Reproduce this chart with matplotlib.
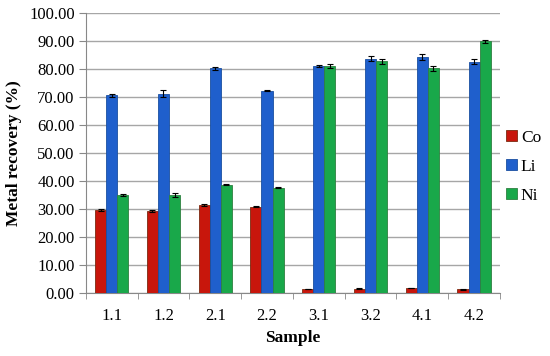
import matplotlib.pyplot as plt
import numpy as np

samples = ['1.1', '1.2', '2.1', '2.2', '3.1', '3.2', '4.1', '4.2']
co = [29.7, 29.2, 31.4, 30.8, 1.4, 1.6, 1.8, 1.3]
li = [70.6, 71.2, 80.2, 72.2, 81.0, 83.6, 84.2, 82.6]
ni = [35.0, 35.0, 38.7, 37.6, 81.0, 82.7, 80.2, 89.8]
co_err = [0.3, 0.4, 0.3, 0.2, 0.1, 0.1, 0.1, 0.1]
li_err = [0.6, 1.2, 0.6, 0.2, 0.4, 0.9, 1.1, 0.8]
ni_err = [0.3, 0.6, 0.3, 0.3, 0.8, 0.8, 0.9, 0.5]

plt.rcParams['font.family'] = ['Liberation Serif', 'DejaVu Serif']

fig = plt.figure(figsize=(5.5, 3.56), dpi=100)
ax = fig.add_axes([0.156, 0.177, 0.753, 0.787])

x = np.arange(len(samples))
w = 0.215
series = [
    ('Co', co, co_err, '#C8160C', '#7A2A10'),
    ('Li', li, li_err, '#1F5FCC', '#1A4FA0'),
    ('Ni', ni, ni_err, '#19A84A', '#2E8040'),
]
for i, (name, vals, err, fc, ec) in enumerate(series):
    ax.bar(x + (i - 1) * w, vals, w, color=fc, edgecolor=ec, linewidth=0.6,
           yerr=err, capsize=2.5, error_kw={'elinewidth': 0.8, 'capthick': 0.8, 'ecolor': 'black'},
           label=name, zorder=3)

ax.set_xlim(-0.5, len(samples) - 0.5)
ax.set_ylim(0, 100)
ax.set_yticks(np.arange(0, 101, 10))
ax.set_yticklabels([f'{v:.2f}' for v in np.arange(0, 101, 10)], fontsize=12)
ax.set_xticks(x)
ax.set_xticklabels(samples, fontsize=12)
ax.set_xticks(np.arange(-0.5, len(samples), 1), minor=True)
ax.tick_params(axis='x', which='major', length=0, pad=11)
ax.tick_params(axis='x', which='minor', length=4, color='#888888')
ax.tick_params(axis='y', length=5, color='#888888', pad=3)
ax.grid(axis='y', color='#A6A6A6', linewidth=1, zorder=0)
ax.set_axisbelow(True)
for s in ['top', 'right']:
    ax.spines[s].set_visible(False)
ax.spines['left'].set_color('#888888')
ax.spines['bottom'].set_color('#888888')

ax.set_ylabel('Metal recovery (%)', fontsize=12.5, fontweight='bold', labelpad=5)
ax.set_xlabel('Sample', fontsize=12.5, fontweight='bold', labelpad=4)

ax.legend(loc='center left', bbox_to_anchor=(1.015, 0.45), frameon=False, fontsize=12.5,
          borderaxespad=0, borderpad=0, handlelength=0.6, handleheight=0.6,
          handletextpad=0.25, labelspacing=0.75)

fig.savefig('out.png', dpi=100)
